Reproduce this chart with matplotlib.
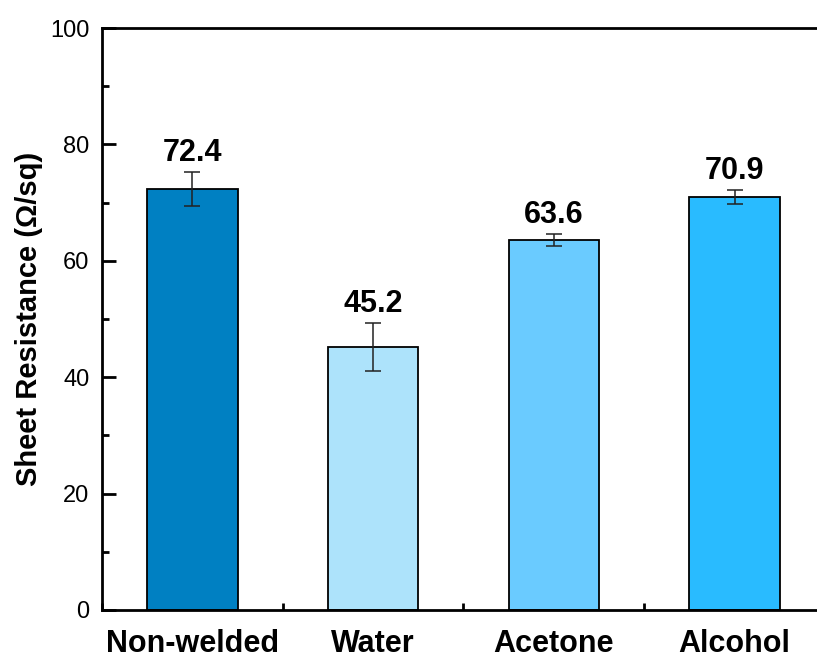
import numpy as np
import matplotlib
matplotlib.use("Agg")
import matplotlib.pyplot as plt
from matplotlib.ticker import MultipleLocator

plt.rcParams["font.family"] = ["Liberation Sans", "DejaVu Sans"]

# sheet resistance for each welding treatment
muestras = ["Non-welded", "Water", "Acetone", "Alcohol"]
resistencia = [72.4, 45.2, 63.6, 70.9]
error = [2.9, 4.1, 1.0, 1.2]
colores = ["#0080c2", "#ade3fb", "#6acbff", "#29bbff"]

fig = plt.figure(figsize=(8.17, 6.61), dpi=100)
ax = fig.add_axes([0.1248, 0.0772, 0.885, 0.8804])

x = np.arange(1, len(muestras) + 1)
ax.bar(x, resistencia, width=0.5, color=colores, edgecolor="black", linewidth=1.3, zorder=2)
ax.errorbar(x, resistencia, yerr=error, fmt="none", ecolor="#222222",
            elinewidth=1.1, capsize=6, capthick=1.1, zorder=3)

for xi, val, err in zip(x, resistencia, error):
    ax.annotate(f"{val:.1f}", (xi, val + err), xytext=(0, 3), textcoords="offset points",
                ha="center", va="bottom", fontsize=22, fontweight="bold")

ax.set_xlim(0.5, 4.5)
ax.set_ylim(0, 100)
ax.set_xticks(x)
ax.set_xticklabels(muestras, fontsize=22, fontweight="bold")
ax.xaxis.set_minor_locator(MultipleLocator(0.5))
ax.yaxis.set_major_locator(MultipleLocator(20))
ax.yaxis.set_minor_locator(MultipleLocator(10))
ax.tick_params(axis="both", which="major", direction="in", length=10, width=2)
ax.tick_params(axis="both", which="minor", direction="in", length=5, width=2)
ax.tick_params(axis="y", which="major", labelsize=17, pad=9)
ax.tick_params(axis="x", which="major", pad=14)
ax.tick_params(axis="x", which="minor", bottom=True)
ax.set_ylabel("Sheet Resistance (Ω/sq)", fontsize=21, fontweight="bold", labelpad=5)

for lado in ["left", "bottom", "top", "right"]:
    ax.spines[lado].set_linewidth(2)

plt.savefig("out.png", dpi=100)
